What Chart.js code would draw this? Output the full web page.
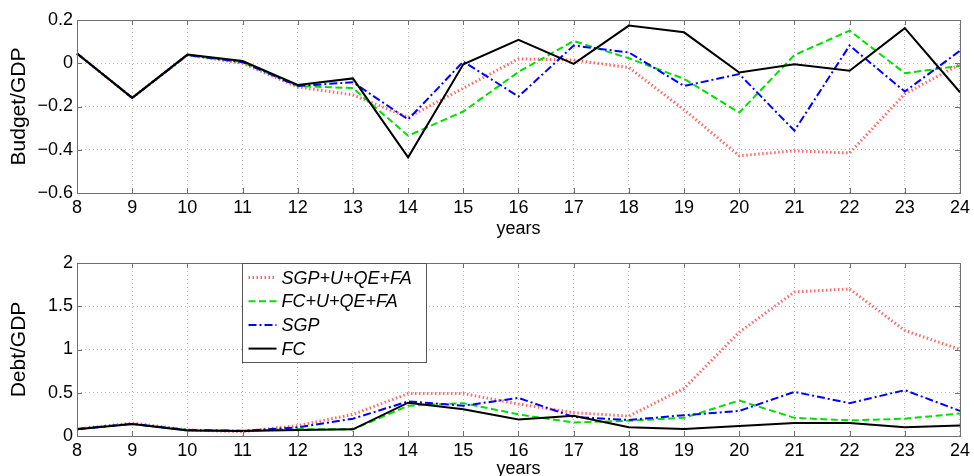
<!DOCTYPE html>
<html>
<head>
<meta charset="utf-8">
<script src="https://cdn.jsdelivr.net/npm/chart.js@4"></script>
<style>
    body { margin: 0; background: #fff; }
    #topBox { width: 974px; height: 240px; position: relative; }
    #botBox { width: 974px; height: 236px; position: relative; }
</style>
</head>
<body>
<div id="topBox"><canvas id="budgetChart"></canvas></div>
<div id="botBox"><canvas id="debtChart"></canvas></div>
<script>
// data
var years = [8, 9, 10, 11, 12, 13, 14, 15, 16, 17, 18, 19, 20, 21, 22, 23, 24];
var seriesNames = ["SGP+U+QE+FA", "FC+U+QE+FA", "SGP", "FC"];

var budgetSgpPlus = [0.045, -0.16, 0.038, 0.0, -0.11, -0.146, -0.25, -0.115, 0.02, 0.015, -0.02, -0.215, -0.428, -0.405, -0.415, -0.142, -0.005];
var budgetFcPlus = [0.045, -0.16, 0.038, 0.005, -0.105, -0.115, -0.335, -0.223, -0.04, 0.103, 0.023, -0.072, -0.228, 0.038, 0.151, -0.046, -0.012];
var budgetSgp = [0.045, -0.16, 0.038, 0.005, -0.105, -0.088, -0.26, 0.008, -0.154, 0.082, 0.05, -0.105, -0.05, -0.312, 0.082, -0.131, 0.058];
var budgetFc = [0.045, -0.16, 0.04, 0.01, -0.1, -0.07, -0.435, -0.005, 0.108, -0.003, 0.174, 0.143, -0.043, -0.005, -0.035, 0.162, -0.134];

var debtSgpPlus = [0.08, 0.15, 0.07, 0.05, 0.12, 0.25, 0.49, 0.49, 0.37, 0.27, 0.23, 0.55, 1.2, 1.665, 1.7, 1.22, 1.0];
var debtFcPlus = [0.08, 0.14, 0.07, 0.06, 0.08, 0.077, 0.35, 0.38, 0.25, 0.155, 0.177, 0.21, 0.41, 0.21, 0.18, 0.2, 0.26];
var debtSgp = [0.08, 0.14, 0.07, 0.06, 0.1, 0.2, 0.4, 0.35, 0.44, 0.22, 0.185, 0.24, 0.29, 0.51, 0.38, 0.53, 0.29];
var debtFc = [0.077, 0.138, 0.065, 0.058, 0.069, 0.077, 0.385, 0.31, 0.19, 0.235, 0.1, 0.08, 0.115, 0.15, 0.15, 0.1, 0.12];

var budgetTicks = [-0.6, -0.4, -0.2, 0, 0.2];
var debtTicks = [0, 0.5, 1, 1.5, 2];

var lineStyles = [
    { color: 'rgb(255,105,105)', dash: [1.5, 2.5], width: 3 },
    { color: '#00e000', dash: [7, 3.5], width: 2 },
    { color: '#0000ff', dash: [8, 3, 2, 3], width: 2 },
    { color: '#000000', dash: [], width: 2 }
];

var FONT = '"Liberation Sans", Arial, Helvetica, sans-serif';
var FRAME = '#707070';

function makeDatasets(lists) {
    return lists.map(function (vals, i) {
        return {
            label: seriesNames[i],
            data: vals,
            borderColor: lineStyles[i].color,
            borderDash: lineStyles[i].dash,
            borderWidth: lineStyles[i].width,
            pointRadius: 0,
            fill: false,
            tension: 0,
            order: 3 - i
        };
    });
}

function fmt(v) {
    var r = Math.round(v * 10) / 10;
    return r < 0 ? '\u2212' + String(-r) : String(r);
}

// box round the plot, inward ticks, and the legend inside the lower plot
var framePlugin = {
    id: 'frame',
    afterDraw: function (chart, args, opts) {
        var ctx = chart.ctx;
        var a = chart.chartArea;
        var xs = chart.scales.x, ys = chart.scales.y;
        ctx.save();
        ctx.strokeStyle = FRAME;
        ctx.lineWidth = 1;
        ctx.setLineDash([]);
        ctx.strokeRect(Math.round(a.left) + 0.5, Math.round(a.top) + 0.5, Math.round(a.right - a.left), Math.round(a.bottom - a.top));
        ctx.beginPath();
        xs.ticks.forEach(function (t, i) {
            var px = Math.round(xs.getPixelForTick(i)) + 0.5;
            ctx.moveTo(px, a.bottom); ctx.lineTo(px, a.bottom - 5);
            ctx.moveTo(px, a.top); ctx.lineTo(px, a.top + 5);
        });
        ys.ticks.forEach(function (t) {
            var py = Math.round(ys.getPixelForValue(t.value)) + 0.5;
            ctx.moveTo(a.left, py); ctx.lineTo(a.left + 5, py);
            ctx.moveTo(a.right, py); ctx.lineTo(a.right - 5, py);
        });
        ctx.stroke();

        if (opts.legend) {
            var bx = Math.round(a.left + 165) + 0.5, by = Math.round(a.top) + 0.5;
            var bw = 184, bh = 99;
            ctx.fillStyle = '#fff';
            ctx.fillRect(bx, by, bw, bh);
            ctx.strokeStyle = '#555';
            ctx.strokeRect(bx, by, bw, bh);
            ctx.font = 'italic 18px ' + FONT;
            ctx.textBaseline = 'middle';
            ctx.textAlign = 'left';
            chart.data.datasets.forEach(function (ds, i) {
                var yy = by + 14 + i * 23.7;
                ctx.beginPath();
                ctx.strokeStyle = ds.borderColor;
                ctx.lineWidth = ds.borderWidth;
                ctx.setLineDash(ds.borderDash);
                ctx.moveTo(bx + 6, yy);
                ctx.lineTo(bx + 34, yy);
                ctx.stroke();
                ctx.setLineDash([]);
                ctx.fillStyle = '#000';
                ctx.fillText(ds.label, bx + 39, yy + 1);
            });
        }
        ctx.restore();
    }
};

function makeOptions(yTicks, yTitle, xHeight, titlePad, topPad, showLegend) {
    return {
        responsive: true,
        maintainAspectRatio: false,
        animation: false,
        layout: { padding: { top: topPad, right: 14, left: 0, bottom: 0 } },
        plugins: {
            legend: { display: false },
            tooltip: { enabled: false },
            frame: { legend: showLegend }
        },
        scales: {
            x: {
                type: 'category',
                offset: false,
                grid: { color: '#b8b8b8', drawTicks: false },
                border: { display: false, dash: [1, 3] },
                ticks: {
                    color: '#000', padding: 4, autoSkip: false, maxRotation: 0,
                    font: { family: FONT, size: 18 }
                },
                title: {
                    display: true, text: 'years', color: '#000',
                    font: { family: FONT, size: 18 },
                    padding: { top: 0, bottom: titlePad }
                },
                afterFit: function (s) { s.height = xHeight; }
            },
            y: {
                min: yTicks[0],
                max: yTicks[yTicks.length - 1],
                grid: { color: '#b8b8b8', drawTicks: false },
                border: { display: false, dash: [1, 3] },
                afterBuildTicks: function (s) {
                    s.ticks = yTicks.map(function (v) { return { value: v }; });
                },
                ticks: {
                    color: '#000', padding: 4,
                    font: { family: FONT, size: 18 },
                    callback: function (v) { return fmt(v); }
                },
                title: {
                    display: true, text: yTitle, color: '#000',
                    font: { family: FONT, size: 21 },
                    padding: { top: 7, bottom: 0 }
                },
                afterFit: function (s) { s.width = 77; }
            }
        }
    };
}

new Chart(document.getElementById('budgetChart').getContext('2d'), {
    type: 'line',
    data: { labels: years, datasets: makeDatasets([budgetSgpPlus, budgetFcPlus, budgetSgp, budgetFc]) },
    options: makeOptions(budgetTicks, 'Budget/GDP', 47, 0, 20, false),
    plugins: [framePlugin]
});

new Chart(document.getElementById('debtChart').getContext('2d'), {
    type: 'line',
    data: { labels: years, datasets: makeDatasets([debtSgpPlus, debtFcPlus, debtSgp, debtFc]) },
    options: makeOptions(debtTicks, 'Debt/GDP', 40, -4, 23, true),
    plugins: [framePlugin]
});
</script>
</body>
</html>
